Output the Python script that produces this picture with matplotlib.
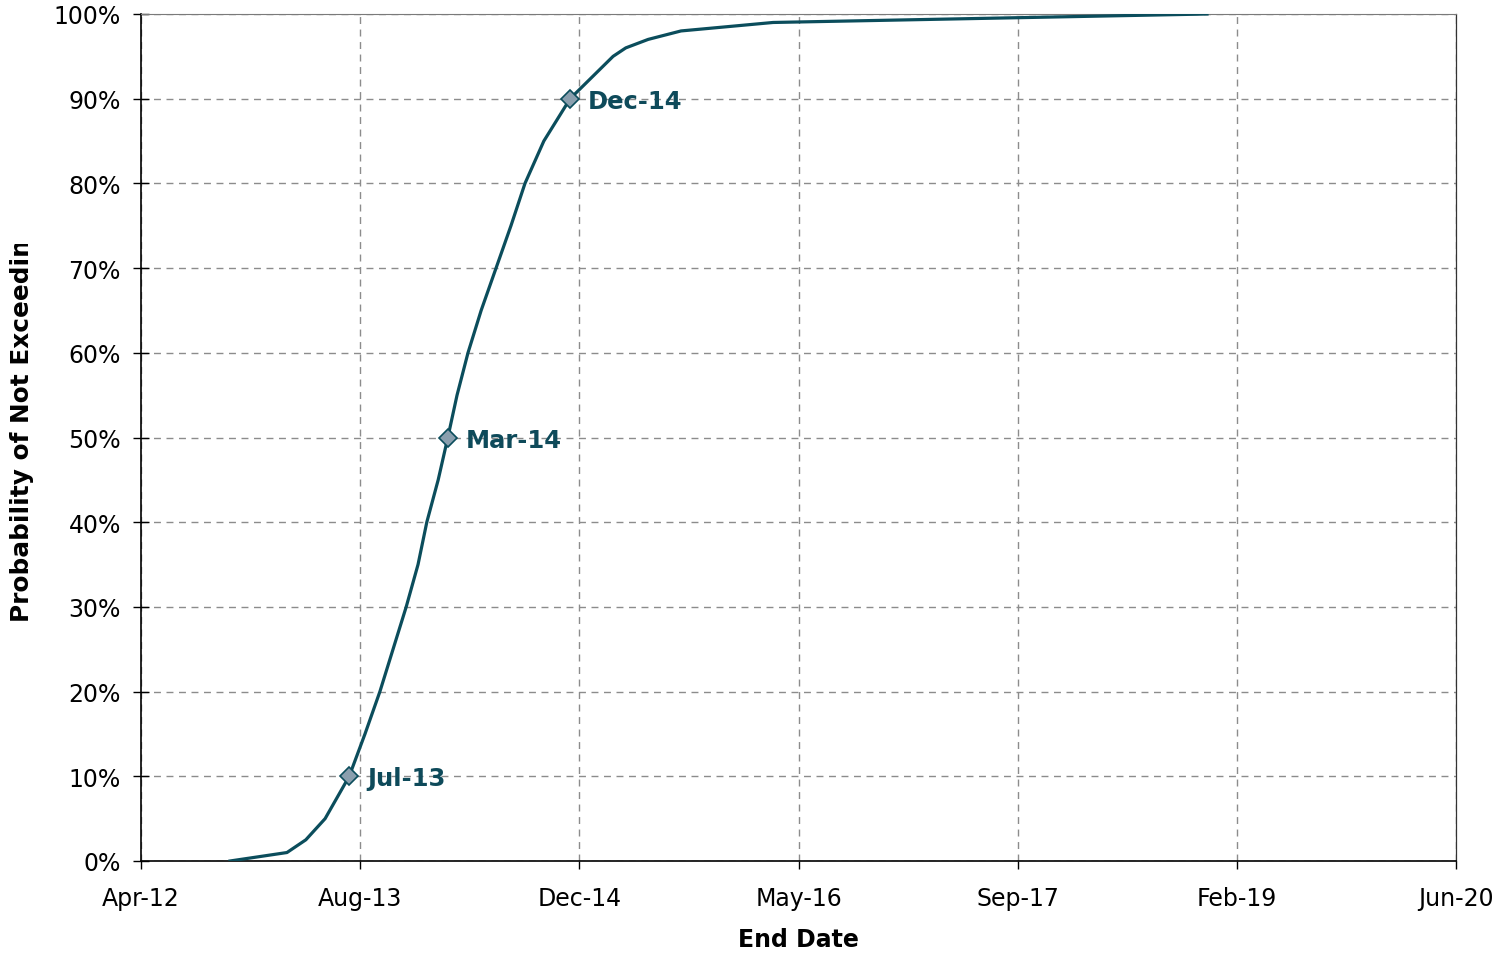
import matplotlib
matplotlib.use("Agg")
import matplotlib.pyplot as plt
from matplotlib.patches import Rectangle

# End date as Excel serial day numbers vs. cumulative probability
end_date_serial = [41203, 41333, 41376, 41420, 41475, 41511, 41545, 41575,
                   41605, 41632, 41652, 41678, 41700, 41721, 41746, 41776,
                   41810, 41844, 41876, 41919, 41979, 42077, 42106, 42157,
                   42232, 42442, 43432]
probability = [0.00, 0.01, 0.025, 0.05, 0.10, 0.15, 0.20, 0.25, 0.30, 0.35,
               0.40, 0.45, 0.50, 0.55, 0.60, 0.65, 0.70, 0.75, 0.80, 0.85,
               0.90, 0.95, 0.96, 0.97, 0.98, 0.99, 1.00]

# highlighted percentiles
marker_serial = [41475, 41700, 41979]
marker_prob = [0.10, 0.50, 0.90]
marker_labels = ["Jul-13", "Mar-14", "Dec-14"]

x_ticks = [41000, 41500, 42000, 42500, 43000, 43500, 44000]
x_tick_labels = ["Apr-12", "Aug-13", "Dec-14", "May-16", "Sep-17", "Feb-19", "Jun-20"]
y_ticks = [i / 10 for i in range(11)]

LINE = "#0b4d5c"
TEXT = "#0e4a5a"

fig = plt.figure(figsize=(15.05, 9.54), dpi=100)
ax = fig.add_axes([141 / 1505, 1 - 862 / 954, (1456 - 141) / 1505, (862 - 15) / 954])

ax.plot(end_date_serial, probability, color=LINE, linewidth=2.3, zorder=3)
ax.plot(marker_serial, marker_prob, linestyle="none", marker="D", markersize=9,
        markerfacecolor="#8a9fae", markeredgecolor=LINE, markeredgewidth=1.2, zorder=4)
for xs, yp, lab in zip(marker_serial, marker_prob, marker_labels):
    ax.annotate(lab, (xs, yp), xytext=(13, -1.5), textcoords="offset points",
                ha="left", va="center", fontsize=17.5, fontweight="bold", color=TEXT)

ax.set_xlim(41000, 44000)
ax.set_ylim(0, 1)
ax.set_xticks(x_ticks)
ax.set_xticklabels(x_tick_labels)
ax.set_yticks(y_ticks)
ax.set_yticklabels([f"{int(round(v * 100))}%" for v in y_ticks])

ax.grid(True, color="#8c8c8c", linestyle=(0, (5, 4)), linewidth=1.0, zorder=1)
ax.set_axisbelow(True)

ax.tick_params(axis="y", direction="inout", length=11, width=1, pad=9,
               labelsize=17, colors="black")
ax.tick_params(axis="x", direction="out", length=6, width=1, pad=12,
               labelsize=17, colors="black")

for side in ("left", "bottom"):
    ax.spines[side].set_color("black")
    ax.spines[side].set_linewidth(1.2)
ax.spines["top"].set_color("#7a7a7a")
ax.spines["top"].set_linewidth(0.8)
ax.spines["right"].set_color("#333333")
ax.spines["right"].set_linewidth(0.9)

fig.text(798 / 1505, 1 - 940 / 954, "End Date", ha="center", va="center",
         fontsize=17, fontweight="bold")

# y title is cut off at the top, as in the original
fig.text(22 / 1505, 1 - 622 / 954, "Probability of Not Exceeding",
         rotation=90, ha="center", va="bottom",
         fontsize=17.8, fontweight="bold")
fig.patches.append(Rectangle((0, 1 - 245 / 954), 45 / 1505, 245 / 954,
                             transform=fig.transFigure, facecolor="white",
                             edgecolor="none", zorder=10))

fig.savefig("out.png", dpi=100)
